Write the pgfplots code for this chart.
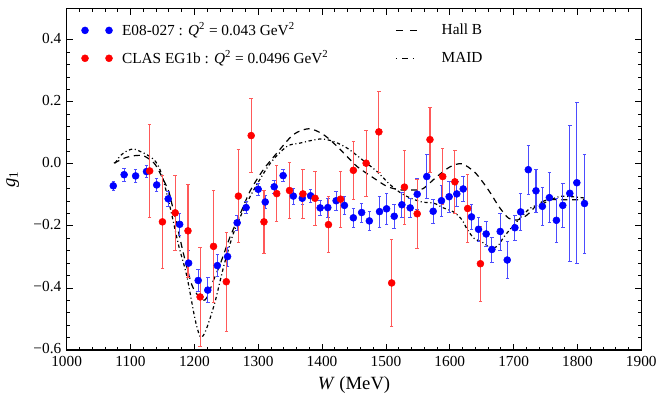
\documentclass[border=0pt]{standalone}
\usepackage{fontspec}
\setmainfont{Liberation Serif}
\usepackage{pgfplots}
\pgfplotsset{compat=1.18}
\definecolor{pblue}{rgb}{0,0,1}
\definecolor{pred}{rgb}{1,0,0}
\pgfplotstableread{
W g e
1073 -0.071 0.015
1090 -0.035 0.02
1108 -0.039 0.02
1125 -0.025 0.02
1141 -0.068 0.02
1159 -0.113 0.025
1177 -0.195 0.035
1191 -0.320 0.04
1206 -0.376 0.035
1221 -0.407 0.04
1236 -0.328 0.035
1252 -0.299 0.03
1267 -0.190 0.025
1281 -0.141 0.02
1300 -0.082 0.02
1311 -0.123 0.02
1325 -0.074 0.02
1339 -0.038 0.02
1355 -0.104 0.025
1369 -0.111 0.02
1382 -0.103 0.02
1397 -0.142 0.025
1409 -0.141 0.03
1422 -0.119 0.03
1435 -0.134 0.03
1449 -0.174 0.03
1462 -0.157 0.03
1474 -0.184 0.03
1490 -0.154 0.05
1501 -0.145 0.05
1513 -0.169 0.04
1525 -0.132 0.04
1538 -0.142 0.03
1549 -0.098 0.05
1564 -0.041 0.07
1574 -0.153 0.04
1587 -0.119 0.05
1599 -0.106 0.05
1611 -0.097 0.04
1621 -0.081 0.04
1634 -0.171 0.04
1645 -0.211 0.04
1657 -0.226 0.04
1666 -0.276 0.04
1679 -0.218 0.06
1690 -0.310 0.06
1702 -0.206 0.04
1711 -0.155 0.06
1723 -0.019 0.08
1735 -0.087 0.07
1745 -0.137 0.06
1756 -0.109 0.08
1767 -0.182 0.07
1777 -0.134 0.07
1788 -0.095 0.22
1799 -0.061 0.26
1811 -0.128 0.16
}\bluedata
\pgfplotstableread{
W g e
1130 -0.023 0.15
1150 -0.187 0.15
1170 -0.158 0.12
1190 -0.216 0.15
1209 -0.429 0.16
1230 -0.266 0.18
1250 -0.380 0.16
1269 -0.104 0.15
1289 0.091 0.12
1309 -0.187 0.10
1329 -0.096 0.09
1349 -0.086 0.09
1370 -0.097 0.08
1389 -0.111 0.086
1410 -0.196 0.09
1429 -0.114 0.09
1449 -0.021 0.094
1469 0.002 0.106
1489 0.103 0.13
1509 -0.384 0.14
1529 -0.075 0.12
1549 -0.161 0.11
1569 0.078 0.105
1589 -0.041 0.09
1608 -0.058 0.10
1628 -0.144 0.11
1648 -0.322 0.12
}\reddata
\pgfplotstableread{
W g
1074 0.002
1090 0.018
1100 0.024
1110 0.027
1120 0.026
1131 0.013
1139 -0.003
1149 -0.041
1160 -0.090
1166 -0.140
1172 -0.190
1183 -0.290
1196 -0.390
1207 -0.428
1214 -0.440
1220 -0.430
1230 -0.375
1241 -0.320
1256 -0.235
1272 -0.160
1288 -0.085
1308 -0.019
1329 0.034
1355 0.094
1379 0.113
1400 0.097
1418 0.067
1439 0.024
1455 -0.009
1481 -0.046
1502 -0.073
1523 -0.084
1549 -0.084
1559 -0.079
1580 -0.041
1601 -0.009
1619 0.000
1638 -0.025
1651 -0.057
1664 -0.095
1677 -0.138
1692 -0.175
1706 -0.181
1721 -0.165
1737 -0.132
1753 -0.116
1773 -0.116
1794 -0.116
1810 -0.116
}\hallb
\pgfplotstableread{
W g
1076 0.002
1084 0.026
1095 0.042
1105 0.048
1115 0.040
1126 0.029
1139 0.008
1149 -0.035
1162 -0.140
1175 -0.260
1188 -0.360
1201 -0.500
1209 -0.557
1215 -0.550
1222 -0.514
1233 -0.440
1246 -0.330
1261 -0.225
1277 -0.148
1293 -0.084
1319 0.002
1345 0.056
1366 0.067
1397 0.080
1418 0.072
1439 0.051
1460 0.018
1486 -0.025
1507 -0.068
1528 -0.100
1554 -0.122
1575 -0.127
1590 -0.142
1606 -0.155
1619 -0.180
1627 -0.210
1638 -0.240
1653 -0.255
1664 -0.272
1675 -0.265
1685 -0.235
1703 -0.191
1726 -0.143
1747 -0.127
1773 -0.105
1810 -0.110
}\maid
\begin{document}
\fontsize{11.5}{13.8}\selectfont
\begin{tikzpicture}
\begin{axis}[
  scale only axis, width=431pt, height=256pt,
  xmin=1000, xmax=1900, ymin=-0.6, ymax=0.5,
  xtick={1000,1100,...,1900},
  xticklabels={1000,1100,1200,1300,1400,1500,1600,1700,1800,1900},
  ytick={-0.6,-0.4,-0.2,0,0.2,0.4},
  yticklabels={−0.6,−0.4,−0.2,0.0,0.2,0.4},
  minor x tick num=4, minor y tick num=4,
  tick align=inside,
  major tick length=4.5pt, minor tick length=2.5pt,
  axis line style={line width=0.8pt},
  every tick/.style={black, line width=0.6pt},
  tick label style={font=\fontsize{11.5}{13.8}\selectfont},
  xticklabel style={yshift=-0.5pt},
  yticklabel style={yshift=1pt},
  xlabel={\textit{W} (MeV)}, ylabel={\textit{g}\textsubscript{1}},
  label style={font=\fontsize{14}{16.8}\selectfont},
  xlabel style={yshift=0pt},
  ylabel style={yshift=3pt},
  legend columns=2,
  legend style={at={(axis description cs:0.018,0.975)}, anchor=north west, draw=none, fill=none,
     font=\fontsize{11.5}{13.8}\selectfont, row sep=5.5pt,
     /tikz/column 1/.style={column sep=5pt},
     /tikz/column 2/.style={column sep=48pt},
     /tikz/column 3/.style={column sep=15pt}},
  legend cell align=left,
]
\addlegendimage{legend image code/.code={\fill[pblue] (0pt,0pt) circle (2.6pt); \fill[pblue] (18pt,0pt) circle (2.6pt);}}
\addlegendentry{E08-027 : \textit{Q}\textsuperscript{2} = 0.043 GeV\textsuperscript{2}}
\addlegendimage{legend image code/.code={\draw[black, line width=0.9pt, dash pattern=on 5.5pt off 5pt] (0pt,0pt) -- (17pt,0pt);}}
\addlegendentry{Hall B}
\addlegendimage{legend image code/.code={\fill[pred] (0pt,0pt) circle (2.6pt); \fill[pred] (18pt,0pt) circle (2.6pt);}}
\addlegendentry{CLAS EG1b : \textit{Q}\textsuperscript{2} = 0.0496 GeV\textsuperscript{2}}
\addlegendimage{legend image code/.code={\draw[black, line width=0.9pt, dash pattern=on 0.9pt off 4pt on 4pt off 4pt] (0pt,0pt) -- (17pt,0pt);}}
\addlegendentry{MAID}

\addplot[forget plot, black, line width=0.9pt, dash pattern=on 4.5pt off 3.5pt, smooth] table[x=W,y=g] {\hallb};
\addplot[forget plot, black, line width=0.9pt, dash pattern=on 2.5pt off 2pt on 0.8pt off 2pt, smooth] table[x=W,y=g] {\maid};

\addplot[forget plot, only marks, mark=*, mark size=2.6pt, pblue, mark options={draw=none, fill=pblue},
  error bars/.cd, y dir=both, y explicit,
  error bar style={pblue!70, line width=0.8pt},
  error mark options={rotate=90, mark size=1.3pt, pblue!70, line width=0.5pt}]
  table[x=W, y=g, y error=e] {\bluedata};
\addplot[forget plot, only marks, mark=*, mark size=2.6pt, pred, mark options={draw=none, fill=pred},
  error bars/.cd, y dir=both, y explicit,
  error bar style={pred!65, line width=0.8pt},
  error mark options={rotate=90, mark size=1.3pt, pred!65, line width=0.5pt}]
  table[x=W, y=g, y error=e] {\reddata};
\end{axis}
\pgfresetboundingbox
\path (-50pt,-42pt) rectangle (448pt,262.5pt);
\end{tikzpicture}
\end{document}
